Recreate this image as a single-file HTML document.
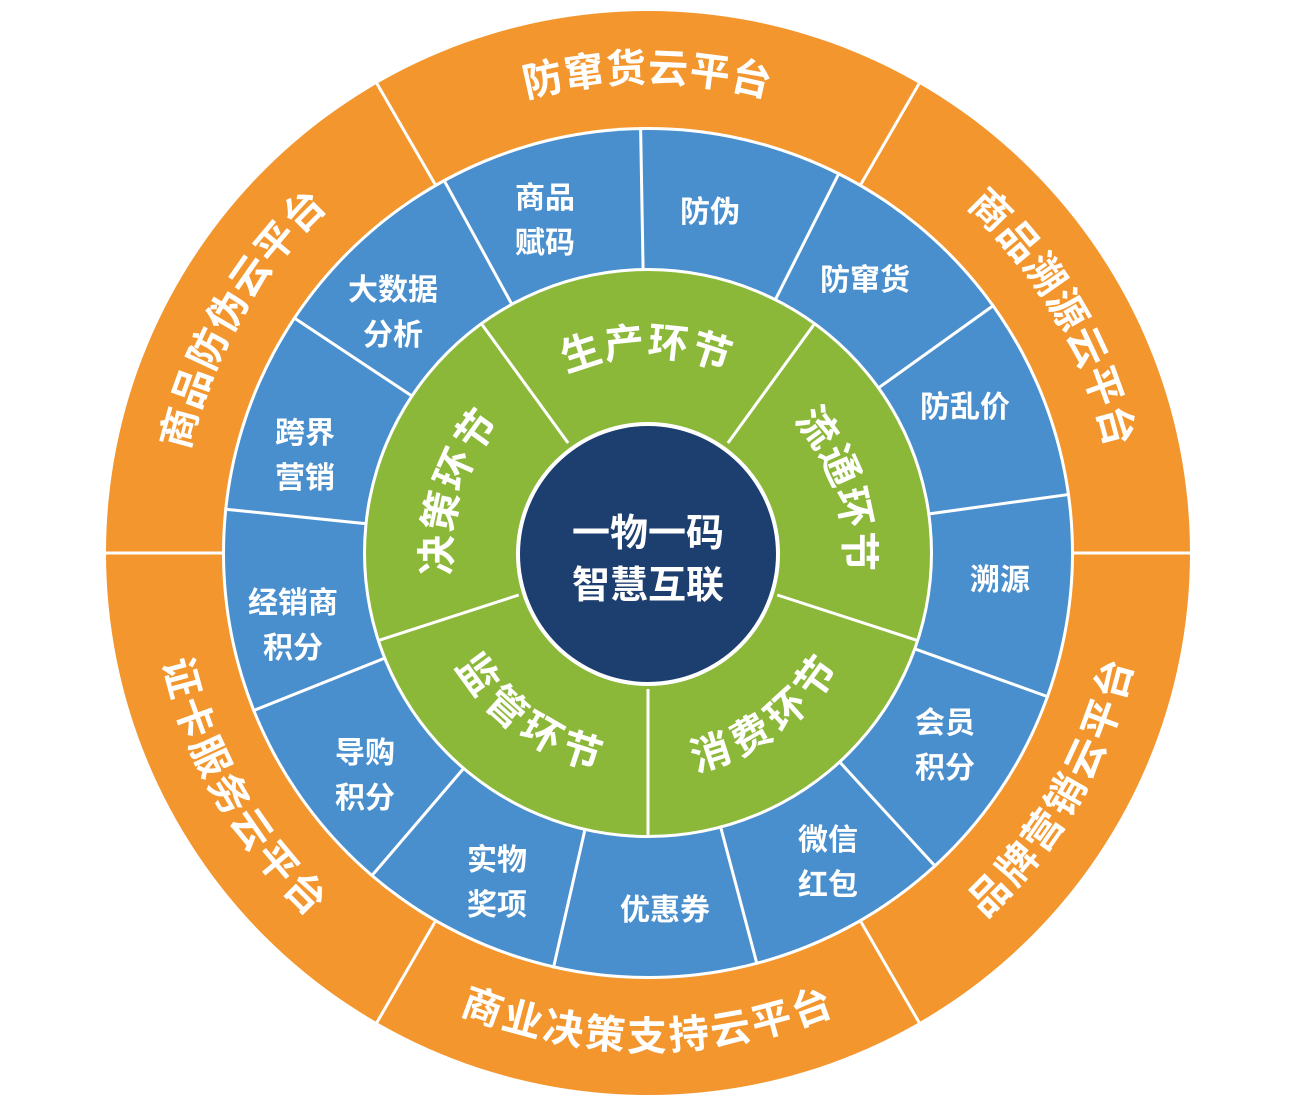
<!DOCTYPE html>
<html><head><meta charset="utf-8"><style>
html,body{margin:0;padding:0;background:#fff;}
svg{display:block;}
text{font-family:"Liberation Sans","Noto Sans CJK SC",sans-serif;font-weight:bold;fill:#fff;}
</style></head><body>
<svg width="1300" height="1110" viewBox="0 0 1300 1110" xmlns="http://www.w3.org/2000/svg">
<defs>
<path id="o1" d="M277.2,241.9 A484,484 0 0 1 1018.8,241.9"/>
<path id="o2" d="M732.0,76.4 A484,484 0 0 1 1102.8,718.5"/>
<path id="o3" d="M193.2,718.5 A484,484 0 0 1 564.0,76.4"/>
<path id="o4" d="M732.0,1029.6 A484,484 0 0 0 1102.8,387.5"/>
<path id="o5" d="M277.2,864.1 A484,484 0 0 0 1018.8,864.1"/>
<path id="o6" d="M193.2,387.5 A484,484 0 0 0 564.0,1029.6"/>
<path id="g1" d="M487.1,418.0 A210,210 0 0 1 808.9,418.0"/>
<path id="g2" d="M726.7,358.3 A210,210 0 0 1 826.1,664.3"/>
<path id="g3" d="M469.9,664.3 A210,210 0 0 1 569.3,358.3"/>
<path id="g4" d="M597.2,756.8 A210,210 0 0 0 857.5,567.7"/>
<path id="g5" d="M438.5,567.7 A210,210 0 0 0 698.8,756.8"/>
</defs>
<circle cx="648" cy="553" r="542" fill="#F3962D"/>
<circle cx="648" cy="553" r="426" fill="#fff"/>
<circle cx="648" cy="553" r="423" fill="#4A8FCD"/>
<circle cx="648" cy="553" r="285" fill="#fff"/>
<circle cx="648" cy="553" r="282" fill="#8CB83A"/>
<circle cx="648" cy="554" r="132" fill="#fff"/>
<circle cx="648" cy="554" r="128" fill="#1C3F6F"/>
<g stroke="#fff" stroke-width="3">
<line x1="1074" y1="553" x2="1192" y2="553"/>
<line x1="861" y1="921.9" x2="920" y2="1024"/>
<line x1="435" y1="921.9" x2="376" y2="1024"/>
<line x1="222" y1="553" x2="104" y2="553"/>
<line x1="435" y1="184.1" x2="376" y2="82"/>
<line x1="861" y1="184.1" x2="920" y2="82"/>
<line x1="643.1" y1="270.0" x2="640.6" y2="127.1"/>
<line x1="775.1" y1="300.2" x2="839.4" y2="172.4"/>
<line x1="878.1" y1="388.2" x2="994.3" y2="304.9"/>
<line x1="928.3" y1="514.0" x2="1069.9" y2="494.3"/>
<line x1="914.3" y1="648.7" x2="1048.9" y2="697.1"/>
<line x1="839.3" y1="761.6" x2="935.9" y2="867.0"/>
<line x1="720.5" y1="826.5" x2="757.2" y2="964.8"/>
<line x1="585.1" y1="828.9" x2="553.3" y2="968.4"/>
<line x1="464.0" y1="768.0" x2="371.0" y2="876.7"/>
<line x1="385.2" y1="658.0" x2="252.4" y2="711.0"/>
<line x1="366.5" y1="523.8" x2="224.3" y2="509.1"/>
<line x1="412.3" y1="396.3" x2="293.2" y2="317.2"/>
<line x1="512.1" y1="304.8" x2="443.5" y2="179.3"/>
<line x1="568.1" y1="443.0" x2="481.7" y2="324.1"/>
<line x1="727.9" y1="443.0" x2="814.3" y2="324.1"/>
<line x1="777.3" y1="595.0" x2="917.2" y2="640.4"/>
<line x1="648" y1="689" x2="648" y2="836"/>
<line x1="518.7" y1="595.0" x2="378.8" y2="640.4"/>
</g>
<g font-size="40" letter-spacing="2" dominant-baseline="central" text-anchor="middle">
<text><textPath href="#o1" startOffset="50%">防窜货云平台</textPath></text>
<text><textPath href="#o2" startOffset="50%">商品溯源云平台</textPath></text>
<text><textPath href="#o3" startOffset="50%">商品防伪云平台</textPath></text>
<text><textPath href="#o4" startOffset="50%">品牌营销云平台</textPath></text>
<text><textPath href="#o5" startOffset="50%">商业决策支持云平台</textPath></text>
<text><textPath href="#o6" startOffset="50%">证卡服务云平台</textPath></text>
</g>
<g font-size="40" letter-spacing="4" dominant-baseline="central" text-anchor="middle">
<text><textPath href="#g1" startOffset="50%">生产环节</textPath></text>
<text><textPath href="#g2" startOffset="50%">流通环节</textPath></text>
<text><textPath href="#g3" startOffset="50%">决策环节</textPath></text>
<text><textPath href="#g4" startOffset="50%">消费环节</textPath></text>
<text><textPath href="#g5" startOffset="50%">监管环节</textPath></text>
</g>
<g font-size="30" text-anchor="middle">
<text x="545" y="208">商品</text><text x="545" y="253">赋码</text>
<text x="710" y="222">防伪</text>
<text x="865" y="290">防窜货</text>
<text x="965" y="417">防乱价</text>
<text x="1000" y="590">溯源</text>
<text x="945" y="733">会员</text><text x="945" y="778">积分</text>
<text x="828" y="850">微信</text><text x="828" y="895">红包</text>
<text x="665" y="920">优惠券</text>
<text x="497" y="870">实物</text><text x="497" y="915">奖项</text>
<text x="365" y="763">导购</text><text x="365" y="808">积分</text>
<text x="293" y="613">经销商</text><text x="293" y="658">积分</text>
<text x="305" y="443">跨界</text><text x="305" y="488">营销</text>
<text x="393" y="300">大数据</text><text x="393" y="345">分析</text>
</g>
<g font-size="38" text-anchor="middle">
<text x="648" y="546">一物一码</text>
<text x="648" y="598">智慧互联</text>
</g>
</svg>
</body></html>
